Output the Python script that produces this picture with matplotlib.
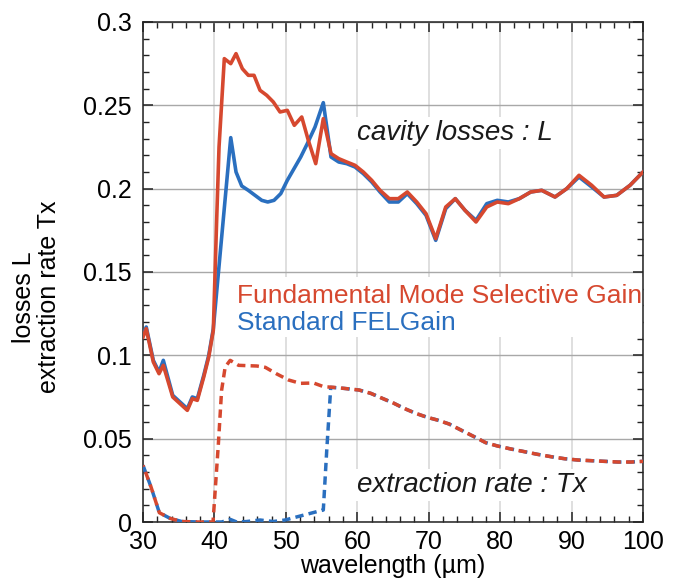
import matplotlib
matplotlib.use('Agg')
from matplotlib import pyplot as plt
from matplotlib.ticker import MultipleLocator, FuncFormatter
from matplotlib.patches import Rectangle

plt.rcParams['font.family'] = ['Liberation Sans', 'DejaVu Sans']

# cavity losses L, fundamental mode selective gain (red)
wl_fmsg = [30.0, 30.45, 31.44, 32.24, 32.84, 34.16, 36.2, 36.9, 37.6, 38.5, 39.2, 39.84,
           40.3, 40.64, 41.38, 42.28, 43.02, 43.9, 44.74, 45.54, 46.38, 47.32, 48.24,
           49.18, 50.2, 51.18, 52.22, 53.14, 54.18, 55.24, 56.32, 57.4, 58.52, 59.68,
           60.84, 62.02, 63.18, 64.48, 65.74, 67.0, 68.32, 69.62, 70.98, 72.38, 73.72,
           75.08, 76.62, 78.12, 79.6, 81.14, 82.68, 84.28, 85.82, 87.68, 89.32, 91.04,
           92.82, 94.54, 96.32, 98.18, 100.0]
loss_fmsg = [0.111, 0.116, 0.096, 0.089, 0.094, 0.075, 0.067, 0.074, 0.073, 0.087, 0.099, 0.115,
             0.180, 0.225, 0.278, 0.275, 0.281, 0.272, 0.268, 0.268, 0.259, 0.256, 0.252,
             0.246, 0.247, 0.238, 0.243, 0.229, 0.215, 0.242, 0.221, 0.218, 0.216, 0.214,
             0.210, 0.205, 0.199, 0.194, 0.194, 0.198, 0.192, 0.185, 0.170, 0.189, 0.194,
             0.187, 0.180, 0.189, 0.192, 0.191, 0.194, 0.198, 0.199, 0.195, 0.200, 0.208,
             0.202, 0.195, 0.196, 0.202, 0.210]

# cavity losses L, standard FEL gain (blue)
wl_std = [30.0, 30.45, 31.44, 32.24, 32.84, 34.16, 36.2, 36.9, 37.6, 38.5, 39.2, 39.84,
          42.28, 43.02, 43.82, 44.74, 45.68, 46.62, 47.46, 48.34, 49.28, 50.2, 51.14,
          52.08, 53.0, 54.08, 55.24, 56.32, 57.4, 58.52, 59.68, 60.84, 62.02, 63.18,
          64.48, 65.74, 67.0, 68.32, 69.62, 70.98, 72.38, 73.72, 75.08, 76.62, 78.12,
          79.6, 81.14, 82.68, 84.28, 85.82, 87.68, 89.32, 91.04, 92.82, 94.54, 96.32,
          98.18, 100.0]
loss_std = [0.112, 0.117, 0.097, 0.090, 0.097, 0.076, 0.068, 0.075, 0.074, 0.088, 0.100, 0.116,
            0.2306, 0.210, 0.2016, 0.199, 0.196, 0.193, 0.192, 0.193, 0.197, 0.205, 0.212,
            0.219, 0.227, 0.237, 0.2516, 0.219, 0.216, 0.215, 0.213, 0.209, 0.204, 0.198,
            0.192, 0.192, 0.197, 0.191, 0.184, 0.169, 0.188, 0.194, 0.187, 0.181, 0.191,
            0.193, 0.192, 0.194, 0.198, 0.199, 0.195, 0.200, 0.207, 0.201, 0.195, 0.196,
            0.202, 0.210]

# extraction rate Tx, fundamental mode selective gain (red)
wl_tx_fmsg = [30.0, 31.12, 32.28, 33.78, 35.42, 38.0, 39.8, 40.55, 41.0, 41.5, 42.2, 43.38,
              45.94, 47.12, 48.74, 50.38, 52.02, 53.88, 55.28, 56.68, 58.08, 60.24, 61.88,
              63.5, 65.14, 66.54, 68.18, 69.8, 71.2, 72.86, 74.5, 76.36, 77.98, 79.64,
              81.52, 83.4, 85.24, 87.12, 88.98, 90.86, 92.74, 94.6, 96.48, 98.34, 100.0]
tx_fmsg = [0.034, 0.021, 0.0056, 0.0022, 0.0003, 0.0, 0.0, 0.047, 0.079, 0.093, 0.097, 0.094,
           0.0936, 0.0928, 0.0888, 0.0852, 0.0832, 0.0834, 0.0812, 0.0808, 0.0802, 0.0792, 0.0772,
           0.0742, 0.0712, 0.0682, 0.0652, 0.0628, 0.0612, 0.0588, 0.0552, 0.0512, 0.0476, 0.0456,
           0.0438, 0.0422, 0.0406, 0.0392, 0.038, 0.0372, 0.0368, 0.0364, 0.036, 0.036, 0.0364]

# extraction rate Tx, standard FEL gain (blue)
wl_tx_std = [30.0, 31.12, 32.28, 33.78, 35.42, 38.0, 39.8, 41.0, 42.2, 43.12, 44.52, 46.38,
             48.24, 49.88, 52.0, 54.32, 55.24, 55.72, 56.28, 58.08, 60.24, 61.88, 63.5,
             65.14, 66.54, 68.18, 69.8, 71.2, 72.86, 74.5, 76.36, 77.98, 79.64, 81.52,
             83.4, 85.24, 87.12, 88.98, 90.86, 92.74, 94.6, 96.48, 98.34, 100.0]
tx_std = [0.034, 0.021, 0.0056, 0.0022, 0.0003, 0.0, 0.0, 0.0, 0.0016, 0.0, 0.0003, 0.0012,
          0.0003, 0.0012, 0.0036, 0.0062, 0.0072, 0.043, 0.0808, 0.0802, 0.0792, 0.0772, 0.0742,
          0.0712, 0.0682, 0.0652, 0.0628, 0.0612, 0.0588, 0.0552, 0.0512, 0.0476, 0.0456, 0.0438,
          0.0422, 0.0406, 0.0392, 0.038, 0.0372, 0.0368, 0.0364, 0.036, 0.036, 0.0364]

RED = '#d6482f'
BLUE = '#2a6fbf'

fig = plt.figure(figsize=(6.75, 5.83), dpi=100)
ax = fig.add_axes([0.2119, 0.1046, 0.7407, 0.8577])

# grid: horizontal darker, vertical lighter
ax.set_axisbelow(True)
ax.yaxis.grid(True, color='#a8a8a8', lw=1.0, zorder=0)
ax.xaxis.grid(True, color='#dcdcdc', lw=1.3, zorder=0)

# white patch behind the legend texts
ax.add_patch(Rectangle((0.175, 0.37), 0.83, 0.12, transform=ax.transAxes,
                       facecolor='white', edgecolor='none', zorder=1))

ax.plot(wl_std, loss_std, color=BLUE, lw=2.6, zorder=3)
ax.plot(wl_fmsg, loss_fmsg, color=RED, lw=2.6, zorder=4)
ax.plot(wl_tx_std, tx_std, color=BLUE, lw=2.5, ls=(0, (2.4, 1.5)), zorder=3)
ax.plot(wl_tx_fmsg, tx_fmsg, color=RED, lw=2.5, ls=(1.9, (2.4, 1.5)), zorder=4)

ax.text(43.2, 0.1356, 'Fundamental Mode Selective Gain', color=RED, fontsize=19,
        va='center', ha='left', zorder=5)
ax.text(43.2, 0.1194, 'Standard FELGain', color=BLUE, fontsize=19,
        va='center', ha='left', zorder=5)
ax.text(60.0, 0.2334, 'cavity losses : L', fontsize=20, style='italic', color='#1a1a1a',
        va='center', ha='left', zorder=2,
        bbox=dict(facecolor='white', edgecolor='none', pad=2))
ax.text(60.0, 0.0222, 'extraction rate : Tx', fontsize=20, style='italic', color='#1a1a1a',
        va='center', ha='left', zorder=2,
        bbox=dict(facecolor='white', edgecolor='none', pad=2))

ax.set_xlim(30, 100)
ax.set_ylim(0, 0.3)
ax.xaxis.set_major_locator(MultipleLocator(10))
ax.xaxis.set_minor_locator(MultipleLocator(2))
ax.yaxis.set_major_locator(MultipleLocator(0.05))
ax.yaxis.set_minor_locator(MultipleLocator(0.01))
ax.yaxis.set_major_formatter(FuncFormatter(lambda v, p: '%g' % round(v, 3)))
ax.tick_params(which='both', direction='in', top=True, right=True, labelsize=18,
               color='#222222')
ax.tick_params(which='major', length=7, width=1.1)
ax.tick_params(which='minor', length=4, width=1.0)
ax.tick_params(axis='y', which='major', pad=8)
ax.tick_params(axis='x', which='major', pad=6)
for s in ax.spines.values():
    s.set_linewidth(1.1)
    s.set_color('#222222')

ax.set_xlabel('wavelength (µm)', fontsize=18, labelpad=0)
ax.set_ylabel('losses L\nextraction rate Tx', fontsize=18, linespacing=1.05)
ax.yaxis.set_label_coords(-0.165, 0.45)

fig.savefig('out.png', dpi=100)
